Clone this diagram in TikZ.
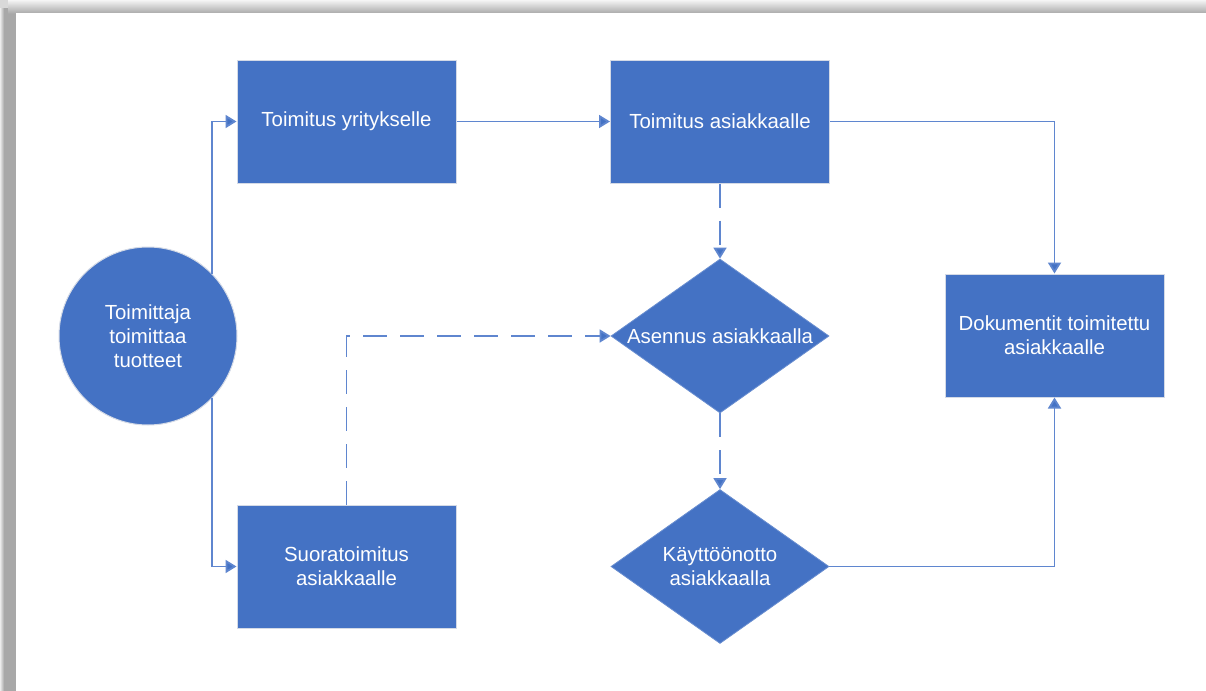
\documentclass[tikz,border=0pt]{standalone}
\usepackage{fontspec}
\setmainfont{Liberation Sans}
\usetikzlibrary{arrows.meta,shapes.geometric}
\definecolor{boxblue}{HTML}{4472C4}
\definecolor{linkblue}{HTML}{5F86CF}
\definecolor{edgegray}{HTML}{D4DAE6}
\begin{document}
\begin{tikzpicture}[x=0.5pt,y=-0.5pt,
  every node/.style={font=\fontsize{10.2}{12}\selectfont, text=white, align=center},
  stepbox/.style={rectangle, fill=boxblue, draw=edgegray, line width=0.5pt,
    minimum width=109.5pt, minimum height=61.5pt, inner sep=0pt},
  startcirc/.style={circle, fill=boxblue, draw=edgegray, line width=0.5pt,
    minimum size=89pt, inner sep=0pt},
  decision/.style={diamond, fill=boxblue, draw=boxblue!80!white, line width=0.4pt,
    aspect=1.4, minimum width=109pt, minimum height=77pt, inner sep=0pt},
  link/.style={draw=linkblue, line width=0.9pt,
    -{Triangle[length=5.5pt,width=6.5pt,fill=boxblue]}},
  dlink/.style={link, dash pattern=on 12pt off 6.5pt}]

% page with its shadow
\useasboundingbox (0,0) rectangle (1206,691);
\fill[white] (0,0) rectangle (1206,691);
\fill[gray!68] (4,8) rectangle (16,691);
\shade[left color=gray!15, right color=gray!68] (0,8) rectangle (4,691);
\shade[top color=gray!8, bottom color=gray!66] (8,0) rectangle (1206,13);
\fill[gray!30] (0,0) rectangle (8,8);
\fill[white] (16,13) rectangle (1206,691);

% nodes
\node[startcirc] (supplier) at (148,336) {Toimittaja\\toimittaa\\tuotteet};
\node[stepbox] (company) at (346.5,121.5) {Toimitus yritykselle};
\node[stepbox] (customer) at (720,121.5) {Toimitus asiakkaalle};
\node[stepbox] (direct) at (346.5,566.5) {Suoratoimitus\\asiakkaalle};
\node[decision] (install) at (720,336) {Asennus asiakkaalla};
\node[decision] (commission) at (720,566.5) {Käyttöönotto\\asiakkaalla};
\node[stepbox] (docs) at (1054.5,335.5) {Dokumentit toimitettu\\asiakkaalle};

% connectors
\draw[link] (supplier.44) |- (company.west);
\draw[link] (supplier.-44) |- (direct.west);
\draw[link] (company.east) -- (customer.west);
\draw[link] (customer.east) -| (docs.north);
\draw[link] (commission.east) -| (docs.south);
\draw[dlink] (customer.south) -- (install.north);
\draw[dlink] (direct.north) |- (install.west);
\draw[dlink] (install.south) -- (commission.north);
\end{tikzpicture}
\end{document}
